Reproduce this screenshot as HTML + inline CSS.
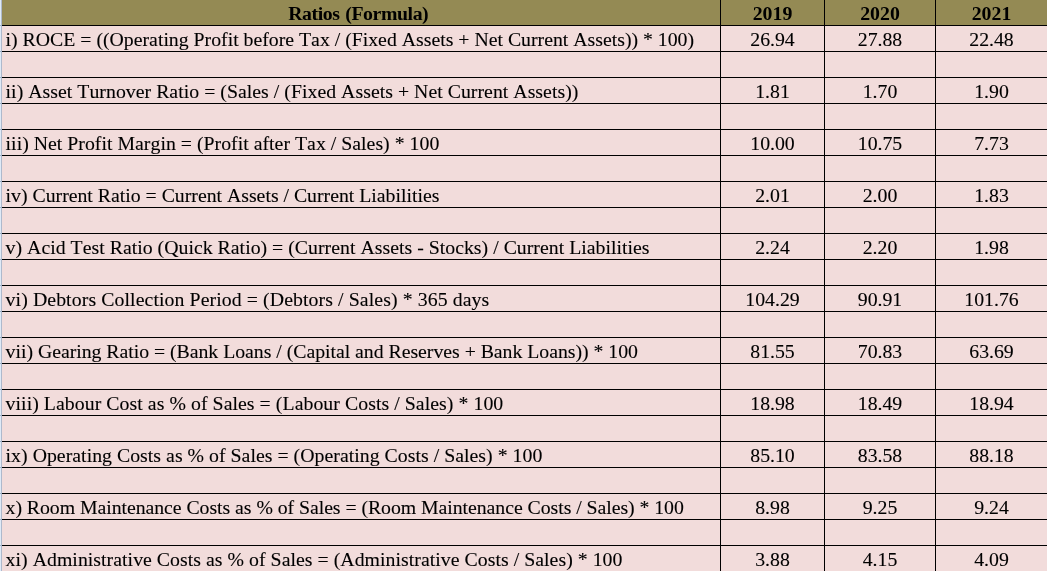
<!DOCTYPE html>
<html lang="en"><head><meta charset="utf-8"><title>Ratios (Formula)</title>
<style>
html,body{margin:0;padding:0;}
body{width:1047px;height:571px;overflow:hidden;position:relative;background:#F2DCDB;}
.edge{position:absolute;left:0;top:0;width:2px;height:571px;background:linear-gradient(to right,#DFEAF7 0,#DFEAF7 1px,#AEB9CC 1px,#AEB9CC 2px);}
.tk{position:absolute;left:0;width:2px;height:1px;background:#9FB0C8;}
table{position:absolute;left:2px;top:0;width:1045px;table-layout:fixed;border-collapse:separate;border-spacing:0;
 font-family:"Liberation Serif","Times New Roman",serif;font-size:19.8px;color:#000;font-kerning:none;font-variant-ligatures:none;-webkit-text-stroke:0.1px #000;}
col.a{width:719px;}col.b{width:104px;}col.c{width:111px;}col.d{width:111px;}
th,td{height:25px;line-height:25px;padding:0;margin:0;border:0;border-bottom:1px solid #000;border-right:1px solid #000;
 white-space:nowrap;overflow:visible;font-weight:normal;text-align:center;background:#F2DCDB;vertical-align:top;}
th:last-child,td:last-child{border-right:0;}
th{background:#948A54;font-weight:bold;-webkit-text-stroke:0;}
th:first-child{padding-right:5.5px;letter-spacing:-0.42px;word-spacing:1.2px;}
td:first-child{text-align:left;padding-left:3.6px;}
th span,td span{position:relative;top:1px;display:inline-block;height:25px;line-height:25px;vertical-align:top;}
</style></head><body>
<div class="edge"></div>

<div class="tk" style="top:25px"></div>
<div class="tk" style="top:51px"></div>
<div class="tk" style="top:77px"></div>
<div class="tk" style="top:103px"></div>
<div class="tk" style="top:129px"></div>
<div class="tk" style="top:155px"></div>
<div class="tk" style="top:181px"></div>
<div class="tk" style="top:207px"></div>
<div class="tk" style="top:233px"></div>
<div class="tk" style="top:259px"></div>
<div class="tk" style="top:285px"></div>
<div class="tk" style="top:311px"></div>
<div class="tk" style="top:337px"></div>
<div class="tk" style="top:363px"></div>
<div class="tk" style="top:389px"></div>
<div class="tk" style="top:415px"></div>
<div class="tk" style="top:441px"></div>
<div class="tk" style="top:467px"></div>
<div class="tk" style="top:493px"></div>
<div class="tk" style="top:519px"></div>
<div class="tk" style="top:545px"></div>
<table><colgroup><col class="a"><col class="b"><col class="c"><col class="d"></colgroup>
<thead><tr><th><span>Ratios (Formula)</span></th><th><span>2019</span></th><th><span>2020</span></th><th><span>2021</span></th></tr></thead><tbody>
<tr><td><span style="letter-spacing:-0.0024px">i) ROCE = ((Operating Profit before Tax / (Fixed Assets + Net Current Assets)) * 100)</span></td><td><span>26.94</span></td><td><span>27.88</span></td><td><span>22.48</span></td></tr>
<tr><td></td><td></td><td></td><td></td></tr>
<tr><td><span style="letter-spacing:0.0306px">ii) Asset Turnover Ratio = (Sales / (Fixed Assets + Net Current Assets))</span></td><td><span>1.81</span></td><td><span>1.70</span></td><td><span>1.90</span></td></tr>
<tr><td></td><td></td><td></td><td></td></tr>
<tr><td><span style="letter-spacing:0.0211px">iii) Net Profit Margin = (Profit after Tax / Sales) * 100</span></td><td><span>10.00</span></td><td><span>10.75</span></td><td><span>7.73</span></td></tr>
<tr><td></td><td></td><td></td><td></td></tr>
<tr><td><span style="letter-spacing:-0.0071px">iv) Current Ratio = Current Assets / Current Liabilities</span></td><td><span>2.01</span></td><td><span>2.00</span></td><td><span>1.83</span></td></tr>
<tr><td></td><td></td><td></td><td></td></tr>
<tr><td><span style="letter-spacing:0.0195px">v) Acid Test Ratio (Quick Ratio) = (Current Assets - Stocks) / Current Liabilities</span></td><td><span>2.24</span></td><td><span>2.20</span></td><td><span>1.98</span></td></tr>
<tr><td></td><td></td><td></td><td></td></tr>
<tr><td><span style="letter-spacing:0.0933px">vi) Debtors Collection Period = (Debtors / Sales) * 365 days</span></td><td><span>104.29</span></td><td><span>90.91</span></td><td><span>101.76</span></td></tr>
<tr><td></td><td></td><td></td><td></td></tr>
<tr><td><span style="letter-spacing:-0.0260px">vii) Gearing Ratio = (Bank Loans / (Capital and Reserves + Bank Loans)) * 100</span></td><td><span>81.55</span></td><td><span>70.83</span></td><td><span>63.69</span></td></tr>
<tr><td></td><td></td><td></td><td></td></tr>
<tr><td><span style="letter-spacing:0.0581px">viii) Labour Cost as % of Sales = (Labour Costs / Sales) * 100</span></td><td><span>18.98</span></td><td><span>18.49</span></td><td><span>18.94</span></td></tr>
<tr><td></td><td></td><td></td><td></td></tr>
<tr><td><span style="letter-spacing:0.0299px">ix) Operating Costs as % of Sales = (Operating Costs / Sales) * 100</span></td><td><span>85.10</span></td><td><span>83.58</span></td><td><span>88.18</span></td></tr>
<tr><td></td><td></td><td></td><td></td></tr>
<tr><td><span style="letter-spacing:-0.0475px">x) Room Maintenance Costs as % of Sales = (Room Maintenance Costs / Sales) * 100</span></td><td><span>8.98</span></td><td><span>9.25</span></td><td><span>9.24</span></td></tr>
<tr><td></td><td></td><td></td><td></td></tr>
<tr><td><span style="letter-spacing:0.0390px">xi) Administrative Costs as % of Sales = (Administrative Costs / Sales) * 100</span></td><td><span>3.88</span></td><td><span>4.15</span></td><td><span>4.09</span></td></tr>
</tbody></table></body></html>
